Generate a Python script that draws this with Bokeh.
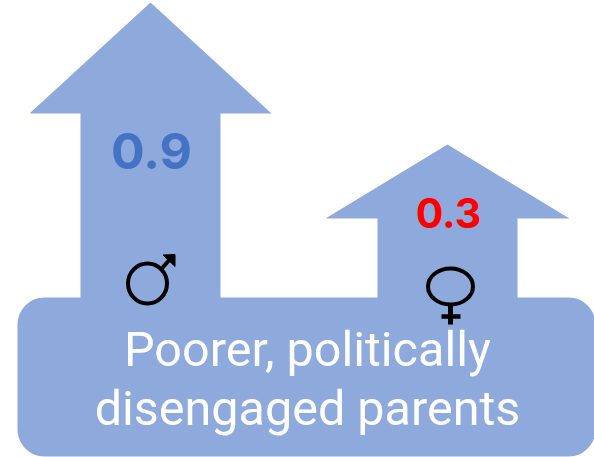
import numpy as np
from bokeh.plotting import figure
from bokeh.embed import file_html
from bokeh.resources import INLINE
from bokeh.core.properties import value

value_labels = ["0.9", "0.3"]
value_colors = ["#4472C4", "#FF0000"]
caption_lines = ["Poorer, politically", "disengaged parents"]
FILL = "#8EA9DB"
W, H = 594, 457

p = figure(width=W, height=H, x_range=(1, W + 1), y_range=(H + 1, 1), output_backend="svg",
           toolbar_location=None, min_border=0, outline_line_color=None,
           background_fill_color="white", border_fill_color="white", margin=(0, 0, 0, 0))
p.xaxis.visible = False
p.yaxis.visible = False
p.grid.visible = False


def arrow(cx_tip, tip, head_y, hl, hr, sl, sr, base):
    return [cx_tip, hr, sr, sr, sl, sl, hl], [tip, head_y, head_y, base, base, head_y, head_y]


x1, y1 = arrow(151, 3, 114, 30, 272, 81, 221, 299)
x2, y2 = arrow(448, 145, 219, 326, 570, 378, 518, 299)
p.patch(x1, y1, fill_color=FILL, line_color=None)
p.patch(x2, y2, fill_color=FILL, line_color=None)


def round_box(l, r, t, b, rad):
    a = np.linspace(0, np.pi / 2, 16)
    xs = np.r_[l + rad - rad * np.cos(a), r - rad + rad * np.sin(a),
               r - rad + rad * np.cos(a), l + rad - rad * np.sin(a)]
    ys = np.r_[t + rad - rad * np.sin(a), t + rad - rad * np.cos(a),
               b - rad + rad * np.sin(a), b - rad + rad * np.cos(a)]
    return xs, ys


bx, by = round_box(18, 596, 298, 457, 27)
p.patch(bx, by, fill_color=FILL, line_color=None)

p.text([152, 449], [151, 213], text=value_labels, text_color=value_colors,
       text_font=value("Inter"), text_font_style="bold", text_font_size=["50px", "41px"],
       text_align="center", text_baseline="middle")
p.text([308, 308], [350, 409], text=caption_lines, text_color="white",
       text_font=value("Roboto"), text_font_size="48.5px",
       text_align="center", text_baseline="middle")

# male symbol
p.ellipse([148], [284], width=[39], height=[40], fill_color=None, line_color="black", line_width=4)
p.line([161.5, 171], [270, 259], line_color="black", line_width=4)
p.patch([163.5, 175.5, 175.5], [255.5, 255, 267], fill_color="black", line_color="black", line_width=1)

# female symbol
p.ellipse([451], [287], width=[45], height=[36], fill_color=None, line_color="black", line_width=4)
p.line([451, 451], [305, 325], line_color="black", line_width=5)
p.line([442, 461], [317, 317], line_color="black", line_width=4.5)

open("out.html", "w").write(file_html(p, INLINE))
